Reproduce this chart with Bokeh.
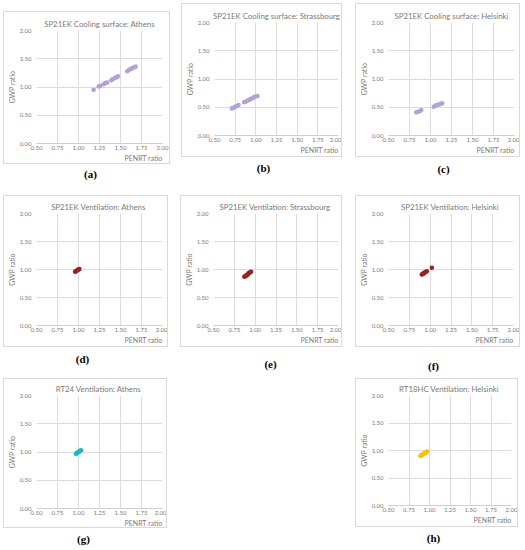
from bokeh.plotting import figure
from bokeh.models import Label, Spacer, FixedTicker, Range1d, NumeralTickFormatter, Title
from bokeh.layouts import row, column
from bokeh.embed import file_html
from bokeh.resources import INLINE

# ---------------- data ----------------
titles = ["SP21EK Cooling surface: Athens", "SP21EK Cooling surface: Strassbourg",
          "SP21EK Cooling surface: Helsinki", "SP21EK Ventilation:  Athens",
          "SP21EK Ventilation:  Strassbourg", "SP21EK Ventilation:  Helsinki",
          "RT24 Ventilation:  Athens", "RT18HC Ventilation:  Helsinki"]
captions = ["(a)", "(b)", "(c)", "(d)", "(e)", "(f)", "(g)", "(h)"]
x_label = "PENRT ratio"
y_label = "GWP ratio"
x_ticks = [0.5, 0.75, 1.0, 1.25, 1.5, 1.75, 2.0]
y_ticks = [0.0, 0.5, 1.0, 1.5, 2.0]

a_penrt = [1.18, 1.24, 1.26, 1.30, 1.32, 1.34, 1.39, 1.41, 1.43, 1.45, 1.47, 1.58, 1.60, 1.62, 1.64, 1.66, 1.68]
a_gwp = [0.95, 1.01, 1.02, 1.05, 1.07, 1.08, 1.12, 1.14, 1.16, 1.17, 1.19, 1.28, 1.30, 1.32, 1.33, 1.35, 1.36]
b_penrt = [0.71, 0.73, 0.75, 0.77, 0.79, 0.86, 0.88, 0.90, 0.92, 0.94, 0.96, 0.98, 1.00, 1.02]
b_gwp = [0.48, 0.49, 0.51, 0.52, 0.54, 0.59, 0.60, 0.62, 0.63, 0.65, 0.66, 0.68, 0.69, 0.70]
c_penrt = [0.83, 0.85, 0.87, 0.89, 1.04, 1.06, 1.08, 1.10, 1.12, 1.14]
c_gwp = [0.41, 0.42, 0.43, 0.45, 0.51, 0.53, 0.54, 0.55, 0.56, 0.57]
d_penrt = [0.96, 0.97, 0.98, 0.99, 1.00, 1.01]
d_gwp = [0.96, 0.97, 0.98, 0.99, 1.00, 1.01]
e_penrt = [0.87, 0.88, 0.89, 0.90, 0.91, 0.92, 0.93, 0.94, 0.95]
e_gwp = [0.87, 0.88, 0.89, 0.90, 0.91, 0.93, 0.94, 0.95, 0.96]
f_penrt = [0.90, 0.91, 0.92, 0.93, 0.94, 0.95, 0.96, 1.02]
f_gwp = [0.91, 0.92, 0.93, 0.94, 0.95, 0.96, 0.97, 1.03]
g_penrt = [0.97, 0.98, 0.99, 1.00, 1.01, 1.02, 1.03]
g_gwp = [0.97, 0.98, 0.99, 1.00, 1.01, 1.02, 1.03]
h_penrt = [0.89, 0.90, 0.91, 0.92, 0.93, 0.94, 0.95, 0.96, 0.97]
h_gwp = [0.90, 0.91, 0.92, 0.93, 0.94, 0.95, 0.96, 0.97, 0.98]

series = [(a_penrt, a_gwp), (b_penrt, b_gwp), (c_penrt, c_gwp), (d_penrt, d_gwp),
          (e_penrt, e_gwp), (f_penrt, f_gwp), (g_penrt, g_gwp), (h_penrt, h_gwp)]
colors = ["#b3a1d8", "#b3a1d8", "#b3a1d8", "#9e1f1f", "#9e1f1f", "#9e1f1f", "#1fb4c9", "#ffc000"]

# ---------------- layout geometry (page pixel coords) ----------------
FONT = "Lato"
TXT = "#7a7a7a"

col_edges = [0, 176, 349, 521]
row_edges = [0, 182, 372, 546]

# (cell_row, cell_col, border box, frame box, caption x,y)
geo = [
    (0, 0, (3, 11, 170, 164), (32, 29, 161, 142), (90, 173)),
    (0, 1, (181, 3, 342, 157), (210, 21, 337, 134), (263, 167)),
    (0, 2, (355, 3, 520, 157), (383, 21, 513, 134), (443, 168)),
    (1, 0, (3, 195, 168, 347), (32, 212, 161, 324), (82, 358)),
    (1, 1, (180, 195, 342, 347), (208, 212, 337, 324), (270, 363)),
    (1, 2, (355, 195, 520, 347), (383, 212, 512, 324), (433, 365)),
    (2, 0, (3, 378, 167, 528), (32, 394, 161, 507), (83, 538)),
    (2, 2, (355, 378, 518, 527), (383, 394, 510, 504), (433, 537)),
]


def make_chart(i, bw, bh, ml, mr, mt, mb):
    p = figure(width=bw, height=bh, output_backend="svg", toolbar_location=None,
               x_range=Range1d(0.5, 2.0), y_range=Range1d(0.0, 2.0),
               min_border_left=ml, min_border_right=mr,
               min_border_top=mt, min_border_bottom=mb,
               title=Title(text=titles[i], align="center", text_font=FONT,
                           text_font_size="7.8px", text_font_style="normal",
                           text_color=TXT, standoff=4))
    p.outline_line_color = None
    p.background_fill_color = "white"
    p.border_fill_color = "white"
    p.styles = {"border": "1px solid #d9d9d9", "box-sizing": "border-box"}

    for ax in (p.xaxis[0], p.yaxis[0]):
        ax.major_tick_line_color = None
        ax.minor_tick_line_color = None
        ax.major_tick_out = 0
        ax.major_tick_in = 0
        ax.minor_tick_out = 0
        ax.major_label_text_font = FONT
        ax.major_label_text_font_size = "6px"
        ax.major_label_text_color = TXT
        ax.formatter = NumeralTickFormatter(format="0.00")
    p.xaxis[0].ticker = FixedTicker(ticks=x_ticks)
    p.yaxis[0].ticker = FixedTicker(ticks=y_ticks)
    p.xaxis[0].axis_line_color = "#cfcfcf"
    p.yaxis[0].axis_line_color = None
    p.xaxis[0].major_label_standoff = 2
    p.yaxis[0].major_label_standoff = 5
    p.yaxis[0].axis_label = y_label
    p.yaxis[0].axis_label_text_font = FONT
    p.yaxis[0].axis_label_text_font_size = "7px"
    p.yaxis[0].axis_label_text_font_style = "normal"
    p.yaxis[0].axis_label_text_color = TXT
    p.yaxis[0].axis_label_standoff = 1

    p.add_layout(Title(text=x_label, align="right", text_font=FONT, text_font_size="7px",
                       text_font_style="normal", text_color=TXT, standoff=0,
                       vertical_align="middle"), "below")

    p.xgrid.ticker = FixedTicker(ticks=x_ticks)
    p.ygrid.ticker = FixedTicker(ticks=y_ticks)
    p.xgrid.grid_line_color = "#dcdcdc"
    p.ygrid.grid_line_color = "#dcdcdc"

    xs, ys = series[i]
    p.scatter(xs, ys, size=4.6, color=colors[i], line_color=None)
    return p


def make_cell(i):
    r, c, border, frame, cpos = geo[i]
    x0, y0 = col_edges[c], row_edges[r]
    cw, ch = col_edges[c + 1] - x0, row_edges[r + 1] - y0
    left_gap = border[0] - x0
    top_gap = border[1] - y0
    bw = border[2] - border[0]
    bh = border[3] - border[1]
    ml = frame[0] - border[0]
    mr = border[2] - frame[2]
    mt = frame[1] - border[1]
    mb = border[3] - frame[3]
    chart = make_chart(i, bw, bh, ml, mr, mt, mb)

    items = []
    if left_gap > 0:
        items.append(Spacer(width=left_gap, height=bh))
    items.append(chart)
    right_gap = cw - left_gap - bw
    if right_gap > 0:
        items.append(Spacer(width=right_gap, height=bh))
    chart_row = row(*items)

    hc = ch - top_gap - bh
    cap = figure(width=cw, height=hc, output_backend="svg", toolbar_location=None,
                 x_range=Range1d(0, cw), y_range=Range1d(0, hc), min_border=0)
    cap.title = None
    cap.axis.visible = False
    cap.grid.visible = False
    cap.outline_line_color = None
    cap.add_layout(Label(x=cpos[0] - x0, y=hc - (cpos[1] - y0 - top_gap - bh),
                         text=captions[i], text_font="Liberation Serif", text_font_size="11px",
                         text_font_style="bold", text_color="black",
                         text_align="center", text_baseline="middle"))
    parts = []
    if top_gap > 0:
        parts.append(Spacer(width=cw, height=top_gap))
    parts += [chart_row, cap]
    return column(*parts)


cells = [make_cell(i) for i in range(8)]
blank = Spacer(width=col_edges[2] - col_edges[1], height=row_edges[3] - row_edges[2])
layout = column(row(cells[0], cells[1], cells[2]),
                row(cells[3], cells[4], cells[5]),
                row(cells[6], blank, cells[7]))

open("out.html", "w").write(file_html(layout, INLINE))
